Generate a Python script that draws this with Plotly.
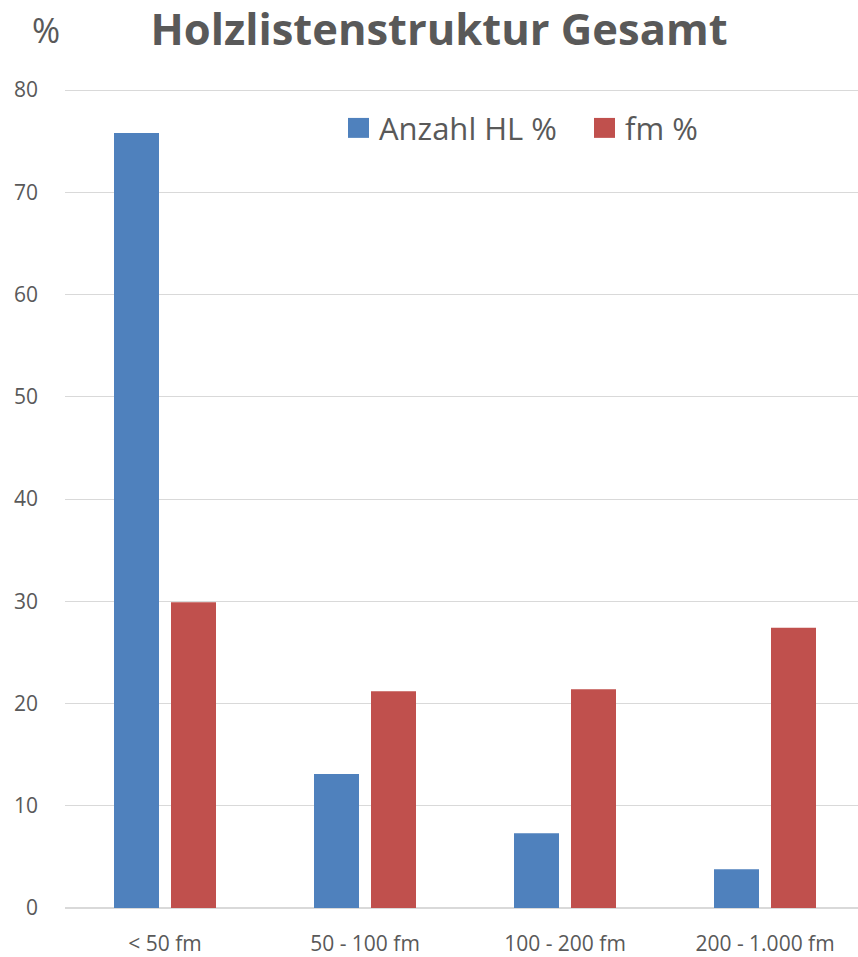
import plotly.graph_objects as go

categories = ["< 50 fm", "50 - 100 fm", "100 - 200 fm", "200 - 1.000 fm"]
anzahl_hl = [75.8, 13.1, 7.3, 3.8]
fm_pct = [29.9, 21.2, 21.4, 27.4]
series_names = ["Anzahl HL %", "fm %"]
colors = ["#4F81BD", "#C0504D"]
y_ticks = [0, 10, 20, 30, 40, 50, 60, 70, 80]

TEXT = "#595959"
FONT = "Open Sans"

W, H = 858, 957
L, R, T, B = 65, 0, 85, 47
pw, ph = W - L - R, H - T - B

fig = go.Figure()
fig.add_trace(go.Bar(x=categories, y=anzahl_hl, name=series_names[0],
                     marker=dict(color=colors[0], line=dict(width=0)),
                     width=0.225, offset=-0.255, showlegend=False))
fig.add_trace(go.Bar(x=categories, y=fm_pct, name=series_names[1],
                     marker=dict(color=colors[1], line=dict(width=0)),
                     width=0.225, offset=0.03, showlegend=False))


def px_x(x):
    return (x - L) / pw


def px_y(y):
    return (H - B - y) / ph


# legend drawn by hand so the swatches can be as large as in the reference
legend_items = [(348, 379), (594, 625)]
for (sx, tx), name, col in zip(legend_items, series_names, colors):
    fig.add_shape(type="rect", xref="paper", yref="paper",
                  x0=px_x(sx), x1=px_x(sx + 21), y0=px_y(138), y1=px_y(118),
                  fillcolor=col, line=dict(width=0))
    fig.add_annotation(xref="paper", yref="paper", x=px_x(tx - 2), y=px_y(128),
                       xanchor="left", yanchor="middle", showarrow=False,
                       text=name, font=dict(family=FONT, size=31, color=TEXT))

fig.add_annotation(xref="paper", yref="paper", x=px_x(46), y=px_y(30),
                   xanchor="center", yanchor="middle", showarrow=False,
                   text="%", font=dict(family=FONT, size=34, color=TEXT))

fig.update_layout(
    width=W, height=H,
    margin=dict(l=L, r=R, t=T, b=B),
    barmode="overlay",
    plot_bgcolor="white", paper_bgcolor="white",
    title=dict(text="<b>Holzlistenstruktur Gesamt</b>", x=439 / W,
               xanchor="center", y=1 - 30 / H, yanchor="middle",
               font=dict(family=FONT, size=43.5, color=TEXT)),
    font=dict(family=FONT, color=TEXT),
)
fig.update_xaxes(range=[-0.5, -0.5 + pw / 200], showgrid=False, showline=False,
                 tickfont=dict(size=21, color=TEXT), ticklabelstandoff=21)
fig.update_yaxes(range=[0, 80.5], tickvals=y_ticks, showgrid=True,
                 gridcolor="#D9D9D9", gridwidth=1.3, zeroline=True,
                 zerolinecolor="#D9D9D9", zerolinewidth=2,
                 tickfont=dict(size=21, color=TEXT), ticklabelstandoff=26)

# drop the default body margin so the figure fills the window exactly
fig.write_html("out.html", config={"displayModeBar": False},
               post_script="document.body.style.margin='0';document.body.style.overflow='hidden';")
